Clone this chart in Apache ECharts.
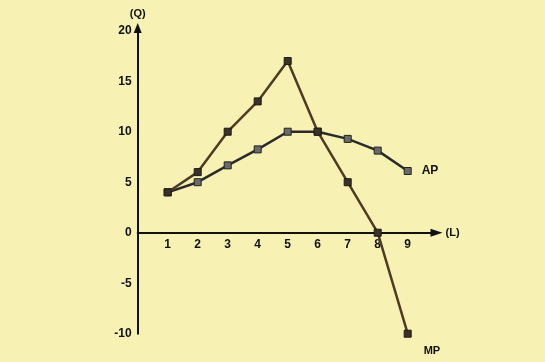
<!DOCTYPE html>
<html>
<head>
<meta charset="utf-8">
<script src="https://cdn.jsdelivr.net/npm/echarts@6/dist/echarts.min.js"></script>
<style>
html,body{margin:0;padding:0;background:#f7f1b4;}
#c{width:545px;height:362px;}
</style>
</head>
<body>
<div id="c"></div>
<script>
const labor = [1, 2, 3, 4, 5, 6, 7, 8, 9];
const mpValues = [4, 6, 10, 13, 17, 10, 5, 0, -10];
const apValues = [4, 5, 6.67, 8.25, 10, 10, 9.29, 8.13, 6.11];
const xTickLabels = [1, 2, 3, 4, 5, 6, 7, 8, 9];
const yTickLabels = [-10, -5, 0, 5, 10, 15, 20];

const chart = echarts.init(document.getElementById('c'));
const font = '"Liberation Sans", Arial, sans-serif';
const gridTop = 28, gridHeight = 305.7, yMin = -10, yMax = 20.27;
const zeroOffset = gridHeight * (0 - yMin) / (yMax - yMin);
chart.setOption({
  backgroundColor: '#f7f1b4',
  animation: false,
  grid: {left: 137.7, top: gridTop, width: 298.8, height: gridHeight, containLabel: false},
  xAxis: {
    type: 'value', min: 0, max: 9.96, interval: 1,
    position: 'bottom', offset: -zeroOffset,
    name: '(L)', nameLocation: 'end', nameGap: 9,
    nameTextStyle: {color: '#111', fontWeight: 'bold', fontSize: 11, fontFamily: font, verticalAlign: 'middle'},
    axisLine: {onZero: false, lineStyle: {color: '#111', width: 2}, symbol: ['none', 'triangle'], symbolSize: [8, 12]},
    axisTick: {show: false},
    splitLine: {show: false},
    axisLabel: {
      margin: 6, color: '#111', fontWeight: 'bold', fontSize: 12, fontFamily: font,
      formatter: v => xTickLabels.includes(v) ? String(v) : ''
    }
  },
  yAxis: {
    type: 'value', min: yMin, max: yMax, interval: 5,
    name: '(Q)', nameLocation: 'end', nameGap: 9,
    nameTextStyle: {color: '#111', fontWeight: 'bold', fontSize: 11, fontFamily: font},
    axisLine: {onZero: false, lineStyle: {color: '#111', width: 2}, symbol: ['none', 'triangle'], symbolSize: [8, 10]},
    axisTick: {show: false},
    splitLine: {show: false},
    axisLabel: {
      margin: 6, color: '#111', fontWeight: 'bold', fontSize: 12, fontFamily: font,
      formatter: v => yTickLabels.includes(v) ? String(v) : ''
    }
  },
  series: [
    {
      name: 'MP', type: 'line',
      data: labor.map((l, i) => [l, mpValues[i]]),
      symbol: 'rect', symbolSize: 7,
      lineStyle: {color: '#4d3b22', width: 2.5},
      itemStyle: {color: '#3a3228', borderColor: '#1e1a14', borderWidth: 1},
      endLabel: {show: true, formatter: 'MP', color: '#111', fontWeight: 'bold', fontSize: 11, fontFamily: font, offset: [8, 17]},
      z: 3
    },
    {
      name: 'AP', type: 'line',
      data: labor.map((l, i) => [l, apValues[i]]),
      symbol: 'rect', symbolSize: 7,
      lineStyle: {color: '#2a2a2a', width: 2.5},
      itemStyle: {color: '#6a6a66', borderColor: '#222', borderWidth: 1},
      endLabel: {show: true, formatter: 'AP', color: '#111', fontWeight: 'bold', fontSize: 12, fontFamily: font, distance: 14},
      z: 2
    }
  ]
});
</script>
</body>
</html>
